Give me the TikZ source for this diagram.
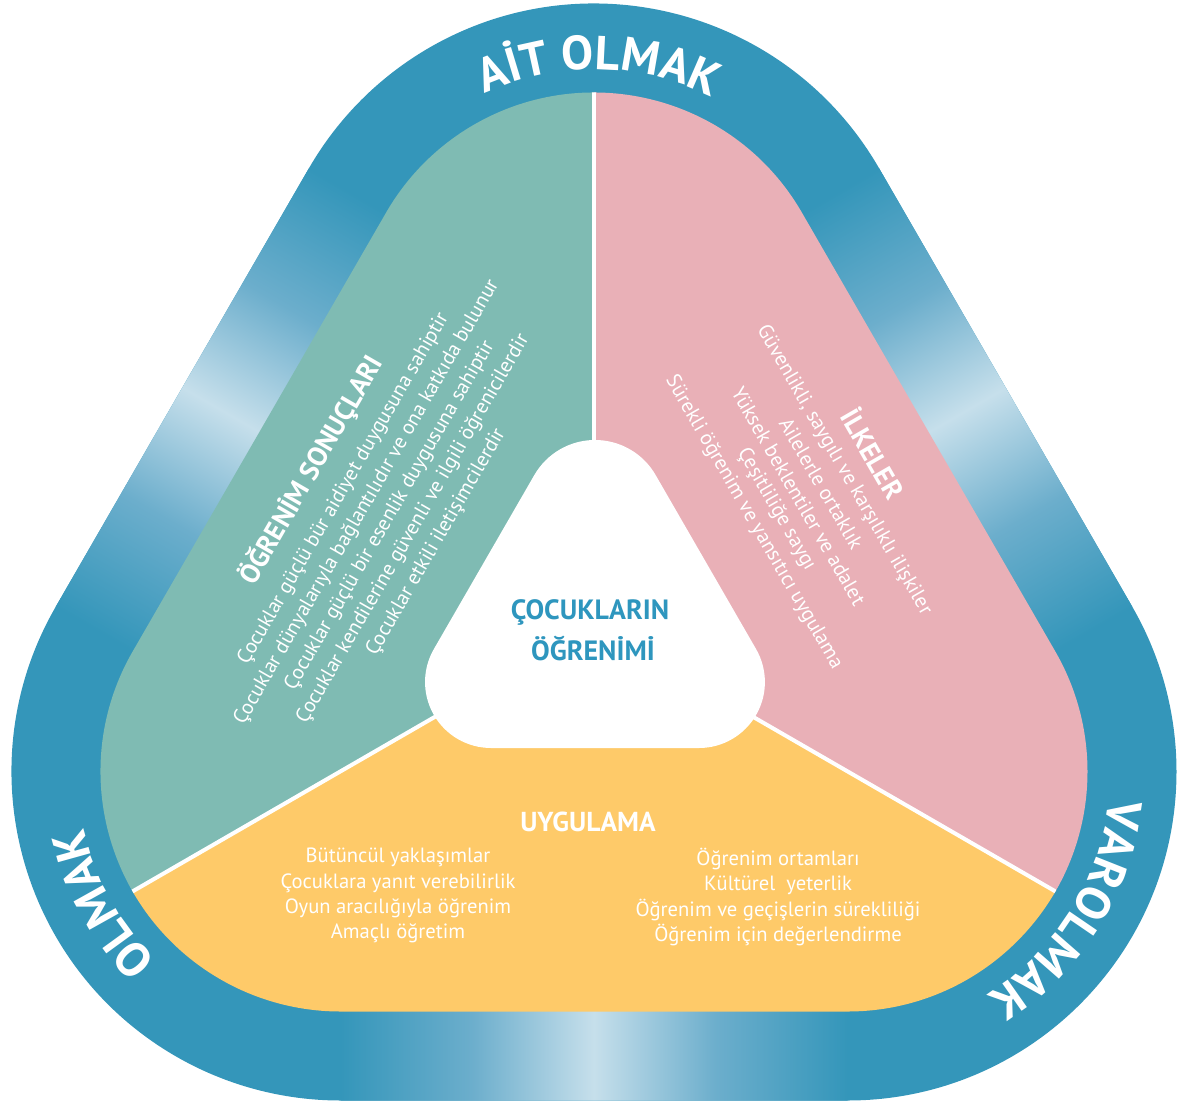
\documentclass[tikz,border=0pt]{standalone}
\usepackage{fontspec}
\setmainfont{PT Sans}
\usetikzlibrary{decorations.text}
\definecolor{ringblue}{HTML}{3496BA}
\definecolor{ringmid}{HTML}{6CAECC}
\definecolor{ringlight}{HTML}{C6DFEB}
\definecolor{sectteal}{HTML}{7FBBB3}
\definecolor{sectpink}{HTML}{E9B0B7}
\definecolor{sectyellow}{HTML}{FECA69}
\definecolor{ctrblue}{HTML}{2E96BE}
\pgfdeclarehorizontalshading{bandshade}{100bp}{color(0bp)=(ringblue); color(25bp)=(ringblue); color(38bp)=(ringmid); color(50bp)=(ringlight); color(62bp)=(ringmid); color(75bp)=(ringblue); color(100bp)=(ringblue)}
\newcommand\rtri[1]{([shift={(30:#1)}]T) arc[start angle=30,end angle=150,radius=#1] -- ([shift={(150:#1)}]L) arc[start angle=150,end angle=270,radius=#1] -- ([shift={(270:#1)}]R) arc[start angle=270,end angle=390,radius=#1] -- cycle}
\newcommand\ringfont{\fontsize{48}{50}\selectfont\bfseries}
\tikzset{
  body/.style={text=white, inner sep=0pt, font=\fontsize{20.7}{24}\selectfont},
  ttl/.style={text=white, inner sep=0pt, font=\fontsize{27.5}{30}\selectfont\bfseries},
  ctr/.style={text=ctrblue, inner sep=0pt, font=\fontsize{28}{30}\selectfont\bfseries},
  divider/.style={draw=white, line width=4bp},
  ringlabel/.style={decorate, decoration={text along path, text align=center, text color=white, text={|\ringfont|#1}}}
}
\begin{document}
\begin{tikzpicture}[x=1bp,y=1bp]
\useasboundingbox (0,0) rectangle (1187,-1106);
\coordinate (T) at (594,-332.5);
\coordinate (L) at (340.5,-771.5);
\coordinate (R) at (847.5,-771.5);
\coordinate (C) at (594,-625);
% outer ring
\fill[ringblue] \rtri{329};
\begin{scope}
  \clip \rtri{329};
  \shade[shading=bandshade, transform canvas={shift={(467.25,-552)}, rotate=60}] (-253.5,225) rectangle (253.5,345);
  \shade[shading=bandshade, transform canvas={shift={(720.75,-552)}, rotate=-60}] (-253.5,225) rectangle (253.5,345);
  \shade[shading=bandshade, transform canvas={shift={(594,-771.5)}, rotate=180}] (-253.5,225) rectangle (253.5,345);
\end{scope}
% sectors
\coordinate (Dtop) at ([shift={(90:800)}]C);
\coordinate (Dleft) at ([shift={(210:800)}]C);
\coordinate (Dright) at ([shift={(330:800)}]C);
\begin{scope}
  \clip \rtri{240};
  \fill[sectteal] (C) -- ++(90:900) arc[start angle=90,end angle=210,radius=900] -- cycle;
  \fill[sectpink] (C) -- ++(-30:900) arc[start angle=-30,end angle=90,radius=900] -- cycle;
  \fill[sectyellow] (C) -- ++(210:900) arc[start angle=210,end angle=330,radius=900] -- cycle;
  \draw[divider] (C) -- (Dtop);
  \draw[divider] (C) -- (Dleft);
  \draw[divider] (C) -- (Dright);
\end{scope}
% centre
\fill[white] (655.6,-475) arc[start angle=30,end angle=150,radius=70] -- (433.9,-649) arc[start angle=150,end angle=270,radius=66] -- (698.9,-748) arc[start angle=270,end angle=390,radius=66] -- cycle;
\node[ctr] (c1) at (590,-612) {ÇOCUKLARIN};
\node[ctr] (c2) at (593,-648) {ÖĞRENİMİ};
% ring labels
\path[ringlabel={AİT OLMAK}] ([shift={(149:263)}]T) arc[start angle=149,end angle=29,radius=263];
\path[ringlabel={OLMAK}] ([shift={(249:263)}]L) arc[start angle=249,end angle=169,radius=263];
\path[ringlabel={VAROLMAK}] ([shift={(8:263)}]R) arc[start angle=8,end angle=-72,radius=263];
% left block
\begin{scope}[shift={(311,-470)}, rotate=60]
  \node[ttl, rotate=60] (lt) at (0,0) {ÖĞRENİM SONUÇLARI};
  \node[body, rotate=60] (l1) at (0,-37.8) {Çocuklar güçlü bür aidiyet duygusuna sahiptir};
  \node[body, rotate=60] (l2) at (0,-64.5) {Çocuklar dünyalarıyla bağlantılıdır ve ona katkıda bulunur};
  \node[body, rotate=60] (l3) at (0,-91.2) {Çocuklar güçlü bir esenlik duygusuna sahiptir};
  \node[body, rotate=60] (l4) at (0,-117.9) {Çocuklar kendilerine güvenli ve ilgili öğrenicilerdir};
  \node[body, rotate=60] (l5) at (0,-144.6) {Çocuklar etkili iletişimcilerdir};
\end{scope}
% right block
\begin{scope}[shift={(874,-453)}, rotate=-60]
  \node[ttl, rotate=-60] (rt) at (0,0) {İLKELER};
  \node[body, rotate=-60] (r1) at (0,-34.8) {Güvenlikli, saygılı ve karşılıklı ilişkiler};
  \node[body, rotate=-60] (r2) at (0,-60.8) {Ailelerle ortaklık};
  \node[body, rotate=-60] (r3) at (0,-86.8) {Yüksek beklentiler ve adalet};
  \node[body, rotate=-60] (r4) at (0,-112.8) {Çeşitliliğe saygı};
  \node[body, rotate=-60] (r5) at (0,-138.8) {Sürekli öğrenim ve yansıtıcı uygulama};
\end{scope}
% bottom block
\node[ttl] (ut) at (588,-822) {UYGULAMA};
\node[body] (u1) at (398,-857) {Bütüncül yaklaşımlar};
\node[body] (u2) at (398,-883) {Çocuklara yanıt verebilirlik};
\node[body] (u3) at (398,-908) {Oyun aracılığıyla öğrenim};
\node[body] (u4) at (398,-933) {Amaçlı öğretim};
\node[body] (u5) at (778,-859) {Öğrenim ortamları};
\node[body] (u6) at (778,-885) {Kültürel\ \ yeterlik};
\node[body] (u7) at (778,-910) {Öğrenim ve geçişlerin sürekliliği};
\node[body] (u8) at (778,-935) {Öğrenim için değerlendirme};
\end{tikzpicture}
\end{document}
